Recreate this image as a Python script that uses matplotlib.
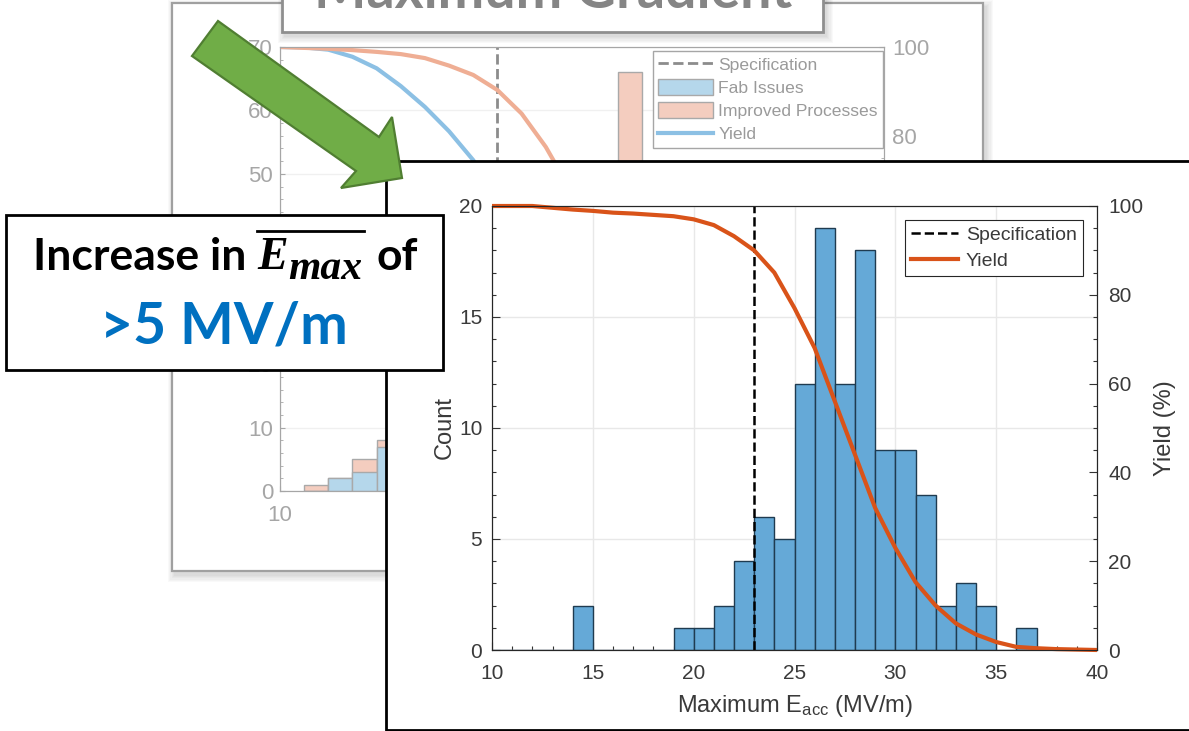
import matplotlib
matplotlib.use("Agg")
import matplotlib.pyplot as plt
from matplotlib.patches import Rectangle, Polygon, Patch
from matplotlib.lines import Line2D
from matplotlib.ticker import MultipleLocator

plt.rcParams['font.family'] = ['Liberation Sans', 'DejaVu Sans']
plt.rcParams['mathtext.fontset'] = 'custom'
plt.rcParams['mathtext.rm'] = 'Liberation Sans'
plt.rcParams['mathtext.it'] = 'Liberation Sans'

W, H = 1189, 731

# front chart data
bin_left = list(range(10, 40))
counts = [0, 0, 0, 0, 2, 0, 0, 0, 0, 1, 1, 2, 4, 6, 5, 12, 19, 12, 18, 9, 9, 7, 2, 3, 2, 0, 1, 0, 0, 0]
yield_x = list(range(10, 41))
yield_y = [100, 100, 100, 99.6, 99.2, 98.9, 98.5, 98.3, 98.0, 97.7, 97.0, 95.7, 93.2, 90.0, 85.0,
           77.0, 68.0, 56.0, 44.0, 32.0, 23.0, 15.3, 10.0, 6.0, 3.5, 1.8, 0.7, 0.4, 0.2, 0.1, 0.0]
spec = 23

# background chart data (only its visible part can be read)
bg_bin_left = [11, 12, 13, 14, 24]
bg_fab = [0, 2, 3, 7, 0]
bg_improved = [1, 2, 5, 8, 66]
bg_yield_x = list(range(10, 23))
bg_yield_fab = [100, 99.9, 99.4, 97.8, 95.2, 91.2, 86.5, 81.0, 74.5, 66, 57, 47, 37]
bg_yield_imp = [100, 99.8, 99.6, 99.3, 98.9, 98.4, 97.5, 95.8, 93.7, 90.3, 85.0, 77.5, 68]
bg_spec = 19

GREY = '#a6a6a6'
DARK = '#3a3a3a'
fig = plt.figure(figsize=(W / 100, H / 100), dpi=100, facecolor='white')


def px_axes(left, top, right, bottom, z):
    return fig.add_axes([left / W, 1 - bottom / H, (right - left) / W, (bottom - top) / H], zorder=z)


def overlay(z):
    a = fig.add_axes([0, 0, 1, 1], zorder=z)
    a.set_xlim(0, W)
    a.set_ylim(H, 0)
    a.axis('off')
    a.patch.set_alpha(0)
    return a


def shadow(a, x0, y0, x1, y1, z=1):
    for i in range(6):
        d = 7 - i * 1.2
        a.add_patch(Rectangle((x0 - d + 3, y0 - d + 4), x1 - x0 + 2 * d, y1 - y0 + 2 * d,
                              fc='black', ec='none', alpha=0.022, zorder=z))


# background slide panel
under = overlay(0)
shadow(under, 172, 3, 983, 571)
under.add_patch(Rectangle((172, 3), 811, 568, fc='white', ec='#a0a0a0', lw=1.6, zorder=2))

# background chart
bg = px_axes(280, 47, 884, 491, 1)
bg.patch.set_alpha(0)
bg.set_xlim(10, 35)
bg.set_ylim(0, 70)
bg.bar(bg_bin_left, bg_improved, width=1, align='edge', color='#f4cdbf', edgecolor='#a9a9a9', lw=1, zorder=2)
bg.bar(bg_bin_left, bg_fab, width=1, align='edge', color='#b5d7eb', edgecolor='#a9a9a9', lw=1, zorder=3)
bg.axvline(bg_spec, color='#8c8c8c', ls='--', lw=2, zorder=4)
bg.grid(True, color='#f0f0f0', lw=1, zorder=0)
bg.set_axisbelow(True)
bg.xaxis.set_major_locator(MultipleLocator(5))
bg.yaxis.set_major_locator(MultipleLocator(10))
bg.yaxis.set_minor_locator(MultipleLocator(2))
bg.set_xticks([10])
bg.tick_params(axis='both', which='both', direction='in', color=GREY, labelcolor=GREY, labelsize=16)
bg.tick_params(axis='x', pad=10)
bg.tick_params(axis='y', pad=5)
for s in bg.spines.values():
    s.set_color(GREY)
bg2 = bg.twinx()
bg2.set_ylim(0, 100)
bg2.yaxis.set_major_locator(MultipleLocator(20))
bg2.yaxis.set_minor_locator(MultipleLocator(5))
bg2.tick_params(axis='y', which='both', direction='in', color=GREY, labelcolor=GREY, labelsize=16, pad=6)
for s in bg2.spines.values():
    s.set_color(GREY)
bg2.plot(bg_yield_x, bg_yield_fab, color='#8cc0e4', lw=3, solid_capstyle='butt')
bg2.plot(bg_yield_x, bg_yield_imp, color='#efae94', lw=3, solid_capstyle='butt')
bg_handles = [Line2D([], [], color='#8c8c8c', ls='--', lw=2),
              Patch(fc='#b5d7eb', ec='#a9a9a9'),
              Patch(fc='#f4cdbf', ec='#a9a9a9'),
              Line2D([], [], color='#8cc0e4', lw=3)]
bgl = bg2.legend(bg_handles, ['Specification', 'Fab Issues', 'Improved Processes', 'Yield'],
                 loc='upper right', bbox_to_anchor=((883 - 280) / 604, (491 - 51) / 444), borderaxespad=0,
                 fancybox=False, framealpha=1, edgecolor=GREY, labelcolor='#9a9a9a', fontsize=12.6,
                 handlelength=3.15, handleheight=1.0, handletextpad=0.3, labelspacing=0.36,
                 borderpad=0.3)
bgl.get_frame().set_linewidth(1)

# title box and front panel
mid = overlay(3)
shadow(mid, 282, -20, 823, 32)
mid.add_patch(Rectangle((282, -20), 541, 52, fc='white', ec='#8f8f8f', lw=2, zorder=3))
mid.text(553, 8, 'Maximum Gradient', fontsize=40, family=['Lato', 'DejaVu Sans'], fontweight='bold',
         color='#858585', ha='center', va='baseline', zorder=4, clip_on=False)
mid.add_patch(Rectangle((386, 161), 860, 569, fc='white', ec='black', lw=2, zorder=5))

# front chart
ax = px_axes(492, 206, 1097, 650, 4)
ax.set_xlim(10, 40)
ax.set_ylim(0, 20)
ax.bar(bin_left, counts, width=1, align='edge', color='#65a9d7', edgecolor='#1f3b50', lw=1, zorder=2)
ax.axvline(spec, color='black', ls='--', lw=1.8, zorder=3)
ax.grid(True, which='major', color='#e8e8e8', lw=1, zorder=0)
ax.set_axisbelow(True)
ax.xaxis.set_major_locator(MultipleLocator(5))
ax.xaxis.set_minor_locator(MultipleLocator(1))
ax.yaxis.set_major_locator(MultipleLocator(5))
ax.yaxis.set_minor_locator(MultipleLocator(1))
ax.tick_params(axis='both', which='major', direction='in', length=6, width=0.8, color='#333333',
               labelcolor=DARK, labelsize=15)
ax.tick_params(axis='x', which='major', pad=10)
ax.tick_params(axis='y', which='major', pad=7)
ax.tick_params(axis='both', which='minor', direction='in', length=3, width=0.8, color='#333333')
ax.set_xlabel('Maximum E$_{\\mathrm{acc}}$ (MV/m)', fontsize=17, color=DARK, labelpad=7)
ax.set_ylabel('Count', fontsize=17, color=DARK, labelpad=2)
for s in ax.spines.values():
    s.set_color('#262626')

ax2 = ax.twinx()
ax2.set_ylim(0, 100)
ax2.yaxis.set_major_locator(MultipleLocator(20))
ax2.yaxis.set_minor_locator(MultipleLocator(5))
ax2.tick_params(axis='y', which='major', direction='in', length=6, width=0.8, color='#333333',
                labelcolor=DARK, labelsize=15, pad=8)
ax2.tick_params(axis='y', which='minor', direction='in', length=3, width=0.8, color='#333333')
ax2.set_ylabel('Yield (%)', fontsize=17, color=DARK, labelpad=8)
ax2.plot(yield_x, yield_y, color='#d95319', lw=3, clip_on=False, solid_capstyle='butt')
for s in ax2.spines.values():
    s.set_color('#262626')
handles = [Line2D([], [], color='black', ls='--', lw=1.8), Line2D([], [], color='#d95319', lw=3)]
leg = ax2.legend(handles, ['Specification', 'Yield'], loc='upper right',
                 bbox_to_anchor=((1083 - 492) / 605, (650 - 220) / 444), borderaxespad=0,
                 fancybox=False, framealpha=1, edgecolor='#262626', labelcolor=DARK, fontsize=14,
                 handlelength=2.4, handletextpad=0.4, labelspacing=0.42, borderpad=0.32)
leg.get_frame().set_linewidth(0.8)

# arrow and callout
top = overlay(6)
top.add_patch(Polygon([(218, 21), (192, 56), (356, 171), (341, 188), (402, 178), (392, 117), (379, 137)],
                      closed=True, fc='#70ad47', ec='#507e32', lw=1.6, zorder=2))
top.add_patch(Rectangle((6, 215), 437, 155, fc='white', ec='black', lw=2, zorder=3))
LATO = ['Lato', 'DejaVu Sans']
SERIF = ['Liberation Serif', 'DejaVu Serif']
top.text(33, 270, 'Increase in', fontsize=32, family=LATO, fontweight='bold', color='black',
         ha='left', va='baseline', zorder=4)
top.text(257, 269, 'E', fontsize=33, family=SERIF, fontweight='bold', fontstyle='italic', color='black',
         ha='left', va='baseline', zorder=4)
top.text(288, 279, 'max', fontsize=30, family=SERIF, fontweight='bold', fontstyle='italic', color='black',
         ha='left', va='baseline', zorder=4)
top.add_line(Line2D([257, 364], [231, 231], color='black', lw=2, zorder=4))
top.text(377, 270, 'of', fontsize=32, family=LATO, fontweight='bold', color='black',
         ha='left', va='baseline', zorder=4)
top.text(224, 343, '>5 MV/m', fontsize=41, family=LATO, fontweight='bold', color='#0070c0',
         ha='center', va='baseline', zorder=4)

fig.savefig('out.png', dpi=100)
